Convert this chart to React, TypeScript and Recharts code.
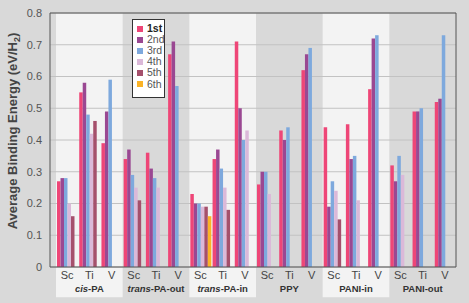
import React from 'react';
import { BarChart, Bar, XAxis, YAxis, CartesianGrid, ReferenceArea, ReferenceLine, Legend } from 'recharts';

const groups = ['cis-PA', 'trans-PA-out', 'trans-PA-in', 'PPY', 'PANI-in', 'PANI-out'];
const metals = ['Sc', 'Ti', 'V'];
const ranks = ['1st', '2nd', '3rd', '4th', '5th', '6th'];
const rankColors = ['#ee4677', '#9a4892', '#7ea9dd', '#dbb9d9', '#a5506c', '#fbb326'];

// one value per group/metal, in order: cis-PA Sc Ti V, trans-PA-out Sc Ti V, ...
const first = [0.27, 0.55, 0.39, 0.34, 0.36, 0.67, 0.23, 0.34, 0.71, 0.26, 0.43, 0.62, 0.44, 0.45, 0.56, 0.32, 0.49, 0.52];
const second = [0.28, 0.58, 0.49, 0.37, 0.31, 0.71, 0.2, 0.37, 0.5, 0.3, 0.4, 0.67, 0.19, 0.34, 0.72, 0.27, 0.49, 0.53];
const third = [0.28, 0.48, 0.59, 0.29, 0.28, 0.57, 0.2, 0.31, 0.4, 0.3, 0.44, 0.69, 0.27, 0.35, 0.73, 0.35, 0.5, 0.73];
const fourth = [0.2, 0.42, null, 0.25, 0.25, null, 0.19, 0.25, 0.43, 0.23, null, null, 0.24, 0.21, null, 0.29, null, null];
const fifth = [0.16, 0.46, null, 0.21, null, null, 0.19, 0.18, null, null, null, null, 0.15, null, null, null, null, null];
const sixth = [null, null, null, null, null, null, 0.16, null, null, null, null, null, null, null, null, null, null, null];

const yTicks = [0, 0.1, 0.2, 0.3, 0.4, 0.5, 0.6, 0.7, 0.8];

const series = [first, second, third, fourth, fifth, sixth];
const keys = groups.flatMap((g) => metals.map((m) => `${g}|${m}`));
const data = keys.map((key, i) => {
  const row: Record<string, any> = { key };
  series.forEach((s, j) => (row[`r${j + 1}`] = s[i]));
  return row;
});

const font = '"Liberation Sans", Arial, sans-serif';

function GroupName({ x, y, name }: { x: number; y: number; name: string }) {
  const m = name.match(/^(cis|trans)(.*)$/);
  return (
    <text x={x} y={y} textAnchor="middle" fontSize={9.5} fontWeight="bold" fill="#333" fontFamily={font}>
      {m ? (
        <>
          <tspan fontStyle="italic">{m[1]}</tspan>
          <tspan>{m[2]}</tspan>
        </>
      ) : (
        name
      )}
    </text>
  );
}

function CategoryTick(props: any) {
  const { x, y, payload } = props;
  const [group, metal] = String(payload.value).split('|');
  return (
    <g>
      <text x={x} y={y + 4} textAnchor="middle" fontSize={11} fill="#444" fontFamily={font}>
        {metal}
      </text>
      {metal === metals[1] && <GroupName x={x} y={y + 17} name={group} />}
    </g>
  );
}

function YTitle(props: any) {
  const { viewBox } = props;
  const cx = viewBox.x + 17;
  const cy = viewBox.y + viewBox.height / 2 - 9;
  return (
    <text
      x={cx}
      y={cy}
      transform={`rotate(-90, ${cx}, ${cy})`}
      textAnchor="middle"
      fontSize={13}
      fontWeight="bold"
      fill="#444"
      fontFamily={font}
    >
      Average Binding Energy (eV/H
      <tspan fontSize={9} dy={3}>2</tspan>
      <tspan dy={-3}>)</tspan>
    </text>
  );
}

function LegendBox() {
  return (
    <div
      style={{
        boxSizing: 'border-box',
        width: 33,
        height: 79,
        background: '#fff',
        border: '1.5px solid #333',
        padding: '3px 0 0 4px',
        fontFamily: font,
        fontSize: 10.5,
      }}
    >
      {ranks.map((r, i) => (
        <div key={r} style={{ display: 'flex', alignItems: 'center', height: 11.1 }}>
          <span style={{ width: 6, height: 6, background: rankColors[i], marginRight: 4, flex: 'none' }} />
          <span style={{ fontWeight: i === 0 ? 'bold' : 'normal', color: i === 0 ? '#222' : '#555', lineHeight: '11px' }}>
            {r}
          </span>
        </div>
      ))}
    </div>
  );
}

export default function App() {
  return (
    <div style={{ position: 'absolute', left: 0, top: 0, width: 469, height: 303, background: '#d9d9d9' }}>
      <BarChart
        width={469}
        height={303}
        data={data}
        margin={{ top: 13, right: 13, bottom: 0, left: 0 }}
        barGap={0}
        style={{ fontFamily: font }}
      >
        {groups.map((g, i) =>
          i % 2 === 0 ? (
            <ReferenceArea
              key={g}
              x1={`${g}|${metals[0]}`}
              x2={`${g}|${metals[2]}`}
              y1={-0.095}
              y2={0.8}
              fill="#f3f3f3"
              fillOpacity={1}
              stroke="none"
              ifOverflow="visible"
            />
          ) : null
        )}
        <CartesianGrid vertical={false} stroke="#c2c2c2" zIndex={150} />
        <XAxis
          dataKey="key"
          interval={0}
          tickLine={false}
          axisLine={{ stroke: '#555' }}
          padding={{ left: 6, right: 0 }}
          height={36}
          tick={<CategoryTick />}
        />
        <YAxis
          domain={[0, 0.8]}
          ticks={yTicks}
          width={50}
          tickLine={false}
          axisLine={{ stroke: '#555' }}
          tick={{ fontSize: 11, fill: '#555', fontFamily: font }}
          tickFormatter={(v: number) => (v === 0 ? '0' : v.toFixed(1))}
          label={<YTitle />}
        />
        <ReferenceLine y={0.8} stroke="#555" />
        <ReferenceLine x={keys[keys.length - 1]} position="end" stroke="#555" />
        {ranks.map((r, j) => (
          <Bar key={r} dataKey={`r${j + 1}`} name={r} fill={rankColors[j]} barSize={3.5} isAnimationActive={false} />
        ))}
        <Legend
          layout="vertical"
          align="center"
          verticalAlign="middle"
          wrapperStyle={{ left: 132, top: 19, width: 33 }}
          content={() => <LegendBox />}
        />
      </BarChart>
    </div>
  );
}
